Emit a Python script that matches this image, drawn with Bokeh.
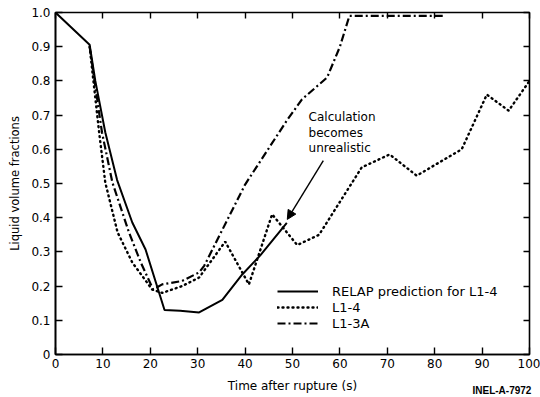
from bokeh.plotting import figure
from bokeh.models import (LinearAxis, FixedTicker, Legend, LegendItem, Label,
                          Arrow, NormalHead, Range1d, CustomJSTickFormatter)
from bokeh.embed import file_html
from bokeh.resources import INLINE

# ---- data ----
relap_t = [0, 7.2, 8.4, 10.5, 13.0, 16.2, 19.0, 23.0, 26.3, 30.3, 35.2, 39.4, 43.2, 48.8]
relap_v = [1.0, 0.906, 0.80, 0.65, 0.51, 0.386, 0.307, 0.13, 0.128, 0.123, 0.16, 0.234, 0.29, 0.385]

l14_t = [7.2, 8.0, 9.2, 10.5, 13.1, 16.2, 20.4, 22.5, 26.7, 30.3, 35.8, 40.8, 45.7, 51.0,
         55.6, 64.6, 70.5, 76.2, 85.7, 91.0, 95.6, 100.0]
l14_v = [0.9, 0.8, 0.65, 0.503, 0.357, 0.269, 0.19, 0.18, 0.2, 0.225, 0.33, 0.205, 0.41, 0.32,
         0.35, 0.547, 0.585, 0.523, 0.6, 0.76, 0.713, 0.8]

l13a_t = [7.2, 9.8, 12.0, 15.5, 18.0, 20.6, 22.5, 26.7, 30.3, 31.4, 40.0, 48.8, 52.0, 57.3,
          60.0, 62.0, 82.0]
l13a_v = [0.9, 0.65, 0.503, 0.357, 0.269, 0.19, 0.205, 0.215, 0.24, 0.26, 0.497, 0.684, 0.746,
          0.81, 0.90, 0.99, 0.99]

x_ticks = [0, 10, 20, 30, 40, 50, 60, 70, 80, 90, 100]
y_ticks = [0, 0.1, 0.2, 0.3, 0.4, 0.5, 0.6, 0.7, 0.8, 0.9, 1.0]
y_tick_labels = ["0", "0.1", "0.2", "0.3", "0.4", "0.5", "0.6", "0.7", "0.8", "0.9", "1.0"]

series_names = ["RELAP prediction for L1-4", "L1-4", "L1-3A"]
note_lines = ["Calculation", "becomes", "unrealistic"]
x_title = "Time after rupture (s)"
y_title = "Liquid volume fractions"
fig_id = "INEL-A-7972"

FONT = "DejaVu Sans"

p = figure(width=540, height=397, output_backend="svg", toolbar_location=None,
           x_range=Range1d(0, 100), y_range=Range1d(0, 1.0),
           min_border_left=55, min_border_right=11, min_border_top=12, min_border_bottom=43)
p.background_fill_color = "white"
p.border_fill_color = "white"
p.outline_line_color = "black"
p.outline_line_width = 1.6
p.xgrid.visible = False
p.ygrid.visible = False

# bottom axis (tick labels only; title drawn as a label in the bottom panel)
xa = p.xaxis[0]
xa.ticker = FixedTicker(ticks=x_ticks)
xa.major_tick_in = 7
xa.major_tick_out = 0
xa.minor_tick_line_color = None
xa.axis_line_width = 1.6
xa.major_tick_line_width = 1.4
xa.major_label_standoff = 4
xa.major_label_text_font = FONT
xa.major_label_text_font_size = "12px"
xa.major_label_text_color = "black"

# left axis
ya = p.yaxis[0]
ya.ticker = FixedTicker(ticks=y_ticks)
ya.major_label_overrides = dict(zip(y_ticks, y_tick_labels))
ya.major_tick_in = 7
ya.major_tick_out = 0
ya.minor_tick_line_color = None
ya.axis_line_width = 1.6
ya.major_tick_line_width = 1.4
ya.major_label_standoff = 5
ya.major_label_text_font = FONT
ya.major_label_text_font_size = "12px"
ya.major_label_text_color = "black"
ya.axis_label = y_title
ya.axis_label_text_font = FONT
ya.axis_label_text_font_style = "normal"
ya.axis_label_text_font_size = "11.5px"
ya.axis_label_text_color = "black"
ya.axis_label_standoff = 6

# top and right tick-only axes
blank = CustomJSTickFormatter(code="return ''")
top = LinearAxis(ticker=FixedTicker(ticks=x_ticks), axis_line_color=None, formatter=blank,
                 major_tick_in=6, major_tick_out=0, major_tick_line_width=1.4,
                 minor_tick_line_color=None, major_label_text_font_size="0px",
                 major_label_standoff=0)
p.add_layout(top, "above")
right = LinearAxis(ticker=FixedTicker(ticks=y_ticks), axis_line_color=None, formatter=blank,
                   major_tick_in=6, major_tick_out=0, major_tick_line_width=1.4,
                   minor_tick_line_color=None, major_label_text_font_size="0px",
                   major_label_standoff=0)
p.add_layout(right, "right")

r1 = p.line(relap_t, relap_v, line_color="black", line_width=2)
r2 = p.line(l14_t, l14_v, line_color="black", line_width=2.4, line_dash="1 4", line_cap="round")
r3 = p.line(l13a_t, l13a_v, line_color="black", line_width=2.2, line_dash="8 3 2 3")

legend = Legend(items=[LegendItem(label=series_names[0], renderers=[r1]),
                       LegendItem(label=series_names[1], renderers=[r2]),
                       LegendItem(label=series_names[2], renderers=[r3])],
                location=(222, 23), padding=0, margin=0, spacing=0,
                glyph_width=41, glyph_height=16, label_height=16, label_standoff=14,
                label_text_font=FONT, label_text_font_size="13px",
                label_text_color="black",
                border_line_color=None, background_fill_alpha=0)
p.add_layout(legend)

for txt, yv in zip(note_lines, [0.693, 0.649, 0.605]):
    p.add_layout(Label(x=53.4, y=yv, text=txt, text_font=FONT, text_font_size="12px",
                       text_baseline="middle", text_align="left", text_color="black"))

p.add_layout(Arrow(x_start=56.5, y_start=0.567, x_end=48.9, y_end=0.395,
                   line_color="black", line_width=1.4,
                   end=NormalHead(size=9, fill_color="black", line_color="black")))

# x title and figure id in the bottom panel
p.add_layout(Label(x=50, y=-1, x_units="data", y_units="screen", text=x_title,
                   text_font=FONT, text_font_size="12px", text_baseline="middle",
                   text_align="center", text_color="black"), "below")
p.add_layout(Label(x=100.4, y=5, x_units="data", y_units="screen", text=fig_id,
                   text_font="Liberation Sans", text_font_size="10px",
                   text_font_style="bold", text_baseline="middle", text_align="right",
                   text_color="black"), "below")

open("out.html", "w").write(file_html(p, INLINE))
